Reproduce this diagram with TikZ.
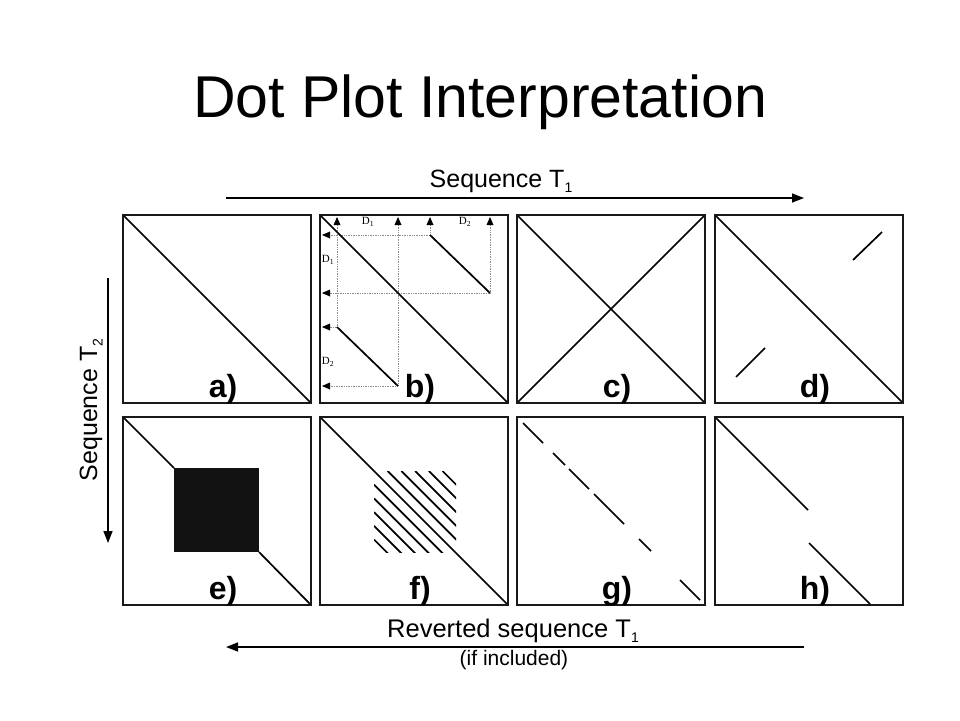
\documentclass[tikz,border=0pt]{standalone}
\usepackage{fontspec}
\setmainfont{Liberation Sans}
\newfontfamily\dfont{Liberation Serif}
\usetikzlibrary{arrows.meta}
\newcommand{\lowsub}[1]{\raisebox{-0.22em}{\fontsize{14}{14}\selectfont #1}}

\begin{document}
\begin{tikzpicture}[x=1pt,y=-1pt,
  frame/.style={line width=2pt,black!90},
  diag/.style={line width=1.7pt},
  guide/.style={densely dotted,black!45,line width=0.7pt},
  axis/.style={line width=1.6pt,-{Triangle[length=12pt,width=9pt]}},
  lab/.style={anchor=base,font=\bfseries\fontsize{32}{32}\selectfont},
  dlab/.style={font=\dfont\fontsize{11}{11}\selectfont,inner sep=0pt}]
  \useasboundingbox (0,0) rectangle (960,720);
  \node[anchor=base,font=\fontsize{59}{59}\selectfont] (title) at (480,117) {Dot Plot Interpretation};
  % 軸と見出し
  \coordinate (t1a) at (226,198); \coordinate (t1b) at (804,198);
  \draw[axis] (t1a) -- (t1b);
  \node[anchor=base,font=\fontsize{25}{25}\selectfont] (seqT1) at (501,187) {Sequence T\lowsub{1}};
  \coordinate (t2a) at (108,278); \coordinate (t2b) at (108,543);
  \draw[axis] (t2a) -- (t2b);
  \node[anchor=base,rotate=90,font=\fontsize{25}{25}\selectfont] (seqT2) at (97,410) {Sequence T\lowsub{2}};
  \coordinate (r1a) at (804,647); \coordinate (r1b) at (226,647);
  \draw[axis] (r1a) -- (r1b);
  \node[anchor=base,font=\fontsize{25.5}{25.5}\selectfont] (revT1) at (513,637) {Reverted sequence T\lowsub{1}};
  \node[anchor=base,font=\fontsize{21}{21}\selectfont] (incl) at (514,665) {(if included)};
  % a)
  \begin{scope}[shift={(123,215)}]
    \draw[diag] (0,0) -- (188,188);
  \end{scope}
  % b) 繰り返し D1, D2
  \begin{scope}[shift={(320,215)}]
    \draw[guide] (17,10) -- (17,112) -- (10,112); \draw[guide] (78,10) -- (78,171) -- (10,171);
    \draw[guide] (110,10) -- (110,20) -- (10,20); \draw[guide] (170,10) -- (170,78) -- (10,78);
    \draw[diag] (0,0) -- (188,188);
    \draw[diag] (17,112) -- (78,171); \draw[diag] (110,20) -- (170,78);
    \foreach \t in {17,78,110,170} \fill (\t-3.5,10) -- (\t+3.5,10) -- (\t,2) -- cycle;
    \foreach \t in {20,78,112,171} \fill (10,\t-3.5) -- (10,\t+3.5) -- (2,\t) -- cycle;
    \node[dlab] (d1top) at (48,7) {D\textsubscript{1}}; \node[dlab] (d2top) at (145,7) {D\textsubscript{2}};
    \node[dlab] (d1left) at (8,45) {D\textsubscript{1}}; \node[dlab] (d2left) at (8,147) {D\textsubscript{2}};
  \end{scope}
  % c)
  \begin{scope}[shift={(517,215)}]
    \draw[diag] (0,0) -- (188,188); \draw[diag] (188,0) -- (0,188);
  \end{scope}
  % d)
  \begin{scope}[shift={(715,215)}]
    \draw[diag] (0,0) -- (188,188);
    \draw[diag] (138,45) -- (167,17); \draw[diag] (21,162) -- (50,133);
  \end{scope}
  % e)
  \begin{scope}[shift={(123,417)}]
    \draw[diag] (0,0) -- (51,51); \fill[black!93] (51,51) rectangle (136,135); \draw[diag] (136,135) -- (188,188);
  \end{scope}
  % f)
  \begin{scope}[shift={(320,417)}]
    \draw[diag] (0,0) -- (188,188);
    \begin{scope}
      \clip (54,54) rectangle (136,135);
      \foreach \k in {1,...,5} {\draw[diag] (54+\k*13.7,54) -- +(90,90); \draw[diag] (54,54+\k*13.7) -- +(90,90);}
    \end{scope}
  \end{scope}
  % g)
  \begin{scope}[shift={(517,417)}]
    \foreach \a/\b in {6/26,36/48,52/72,77/107,122/134,163/183} \draw[diag] (\a,\a) -- (\b,\b);
  \end{scope}
  % h)
  \begin{scope}[shift={(715,417)}]
    \draw[diag] (0,0) -- (93,93); \draw[diag] (94,126) -- (155,187);
  \end{scope}
  % 枠とラベル
  \foreach \px/\py/\pl in {123/215/a,320/215/b,517/215/c,715/215/d,123/417/e,320/417/f,517/417/g,715/417/h}
    {\draw[frame] (\px,\py) rectangle +(188,188);
     \node[lab] (lab\pl) at (\px+100,\py+182) {\pl)};}
\end{tikzpicture}
\end{document}
